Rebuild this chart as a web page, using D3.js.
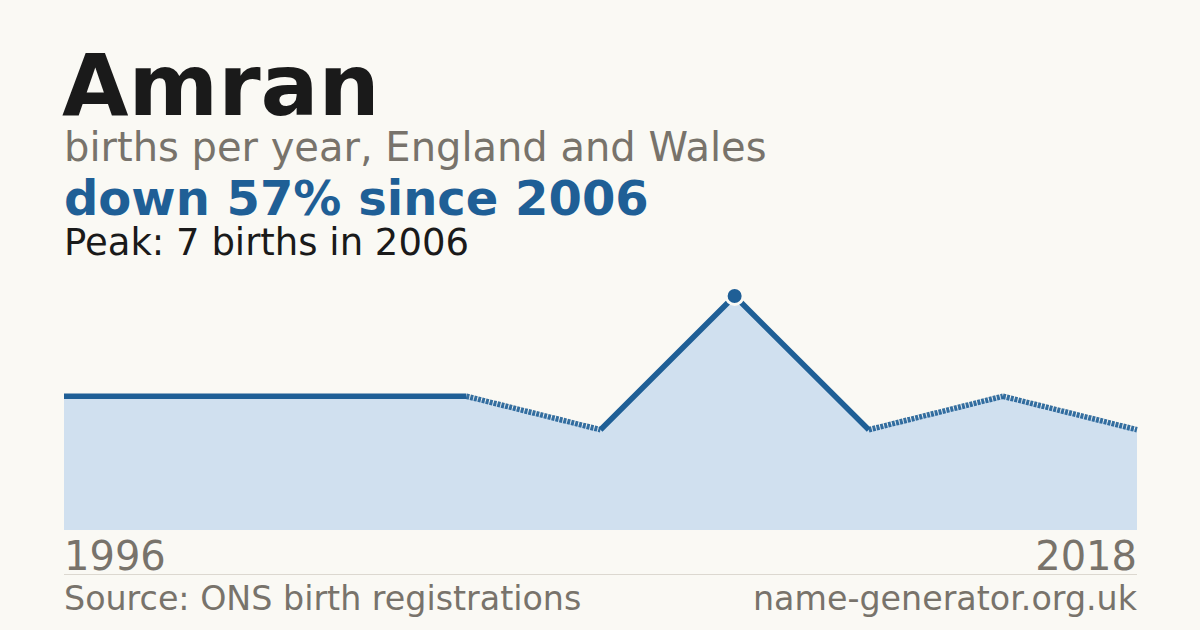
<!DOCTYPE html>
<html><head><meta charset="utf-8">
<script src="https://cdn.jsdelivr.net/npm/d3@7"></script>
<style>
html,body{margin:0;padding:0;background:#faf9f4;}
svg{display:block;font-family:"DejaVu Sans",sans-serif;}
</style></head>
<body>
<svg id="c" width="1200" height="630"></svg>
<script>
const years = [1996, 1997, 1998, 1999, 2005, 2006, 2007, 2011, 2018];
const births = [4, 4, 4, 4, 3, 7, 3, 4, 3];
const gapAfter = [false, false, false, true, false, false, true, true];
const tickLabels = ["1996", "2018"];

(function () {
const W = 1200, H = 630;
const svg = d3.select("#c");
svg.append("rect").attr("width", W).attr("height", H).attr("fill", "#faf9f4");

const xL = 64, xR = 1137, yB = 530, yT = 296;
const data = years.map((yr, i) => ({year: yr, v: births[i], i}));
const x = d3.scaleLinear().domain([0, years.length - 1]).range([xL, xR]);
const y = d3.scaleLinear().domain([0, d3.max(births)]).range([yB, yT]);

const blue = "#1f5f96";
svg.append("path").datum(data)
  .attr("d", d3.area().x(d => x(d.i)).y0(yB).y1(d => y(d.v)))
  .attr("fill", "#d0e0ef");

const line = d3.line().x(d => x(d.i)).y(d => y(d.v));
// dashed segments across gaps in the years
for (let k = 0; k < data.length - 1; k++) {
  if (!gapAfter[k]) continue;
  svg.append("path").datum([data[k], data[k + 1]])
    .attr("d", line)
    .attr("fill", "none").attr("stroke", blue).attr("stroke-width", 5.5)
    .attr("stroke-dasharray", "3 1").attr("stroke-opacity", 0.9);
}
// solid runs
let run = [data[0]];
const runs = [];
for (let k = 0; k < data.length - 1; k++) {
  if (gapAfter[k]) { runs.push(run); run = [data[k + 1]]; }
  else run.push(data[k + 1]);
}
runs.push(run);
runs.filter(r => r.length > 1).forEach(r => {
  svg.append("path").datum(r).attr("d", line)
    .attr("fill", "none").attr("stroke", blue).attr("stroke-width", 5.5)
    .attr("stroke-linejoin", "miter");
});

const peakIdx = births.indexOf(d3.max(births));
svg.append("circle").attr("cx", x(peakIdx)).attr("cy", y(births[peakIdx]))
  .attr("r", 8.5).attr("fill", blue).attr("stroke", "#faf9f4").attr("stroke-width", 3);

svg.append("text").attr("x", 62).attr("y", 115).text("Amran")
  .attr("font-size", 86).attr("font-weight", "bold").attr("fill", "#1a1a1a");
svg.append("text").attr("x", 64).attr("y", 161).text("births per year, England and Wales")
  .attr("font-size", 40).attr("fill", "#78736b");
svg.append("text").attr("x", 64).attr("y", 215).text("down 57% since 2006")
  .attr("font-size", 48).attr("font-weight", "bold").attr("fill", blue);
svg.append("text").attr("x", 64).attr("y", 255).text("Peak: 7 births in 2006")
  .attr("font-size", 37).attr("fill", "#1a1a1a");

svg.append("text").attr("x", xL).attr("y", 570).text(tickLabels[0])
  .attr("font-size", 40).attr("fill", "#78736b");
svg.append("text").attr("x", xR).attr("y", 570).text(tickLabels[1])
  .attr("text-anchor", "end").attr("font-size", 40).attr("fill", "#78736b");

svg.append("line").attr("x1", xL).attr("x2", xR).attr("y1", 574.5).attr("y2", 574.5)
  .attr("stroke", "#dcd8d0").attr("stroke-width", 1);

svg.append("text").attr("x", xL).attr("y", 610).text("Source: ONS birth registrations")
  .attr("font-size", 33.3).attr("fill", "#78736b");
svg.append("text").attr("x", xR).attr("y", 610).text("name-generator.org.uk")
  .attr("text-anchor", "end").attr("font-size", 33.3).attr("fill", "#78736b");
})();
</script>
</body></html>
